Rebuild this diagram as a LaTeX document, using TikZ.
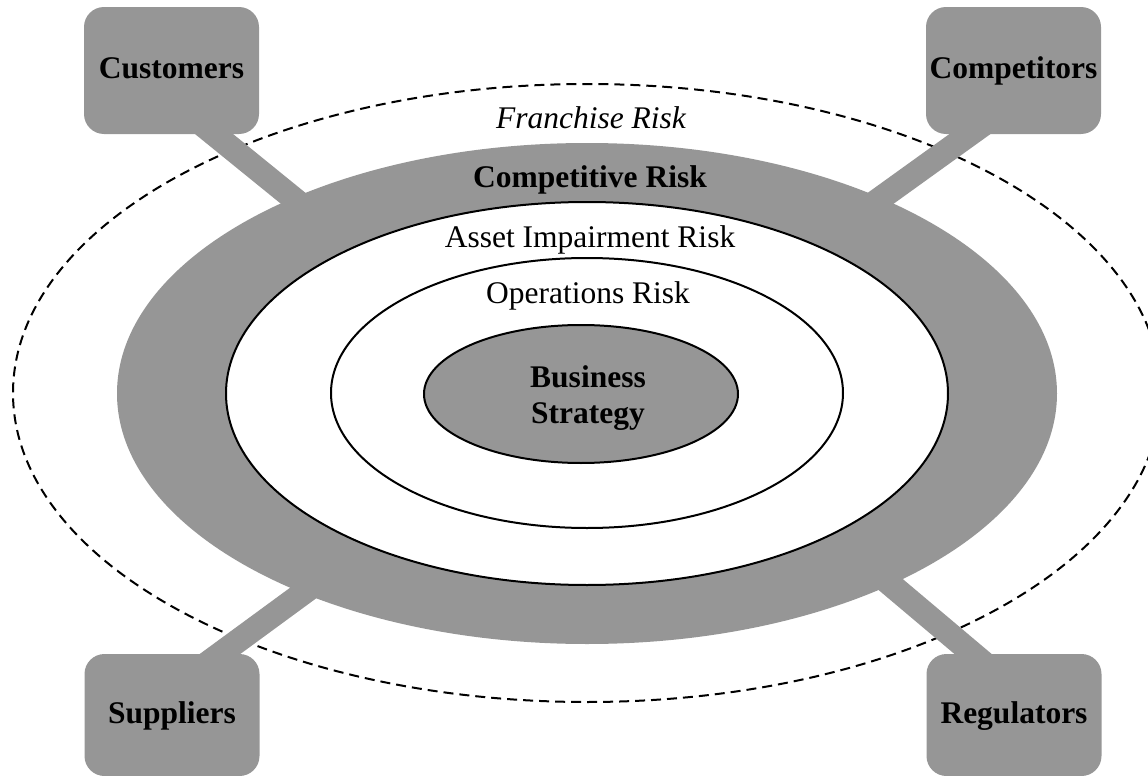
\documentclass[tikz,border=0pt]{standalone}
\usepackage{fontspec}
\setmainfont{Liberation Serif}
\usetikzlibrary{shapes.geometric}
\definecolor{riskgray}{RGB}{150,150,150}
\begin{document}
\begin{tikzpicture}[x=0.5pt,y=-0.5pt,
  txt/.style={font=\fontsize{15.75pt}{18pt}\selectfont},
  ring/.style={ellipse,draw=black,line width=1pt,fill=white,inner sep=0pt},
  party/.style={rectangle,rounded corners=10pt,fill=riskgray,inner sep=0pt,
    minimum width=87.5pt,text height=0.9em,text depth=0.1em,
    font=\fontsize{15.75pt}{18pt}\selectfont\bfseries},
  conn/.style={draw=riskgray,line width=12pt},
  lbl/.style={txt,anchor=base,inner sep=0pt}]
\useasboundingbox (0,0) rectangle (1148,776);
\clip (0,0) rectangle (1148,776);

% outer dashed ellipse
\node[ellipse,draw=black,line width=1pt,dash pattern=on 5pt off 3pt,inner sep=0pt,
  minimum width=574pt,minimum height=309pt] (franchise) at (587,393) {};

% connector ends
\coordinate (k1a) at (171.5,99.5);  \coordinate (k1b) at (469,341);
\coordinate (k2a) at (1011,104.5);  \coordinate (k2b) at (642,370);
\coordinate (k3a) at (175,687);     \coordinate (k3b) at (535,423);
\coordinate (k4a) at (1014,688.5);  \coordinate (k4b) at (686,412);
\draw[conn] (k1a) -- (k1b);
\draw[conn] (k2a) -- (k2b);
\draw[conn] (k3a) -- (k3b);
\draw[conn] (k4a) -- (k4b);

% boxes
\node[party,minimum height=63.5pt] (cust) at (171.5,70.5) {Customers};
\node[party,minimum height=63.5pt] (comp) at (1013.5,70.5) {Competitors};
\node[party,minimum height=61pt] (supp) at (172,715) {Suppliers};
\node[party,minimum height=61pt] (regu) at (1014,715) {Regulators};

% rings
\node[ellipse,fill=riskgray,inner sep=0pt,minimum width=470pt,minimum height=250.5pt]
  (competitive) at (587,393.5) {};
\node[ring,minimum width=361pt,minimum height=191.5pt] (asset) at (587,393.5) {};
\node[ring,minimum width=256pt,minimum height=135pt] (ops) at (587,393) {};
\node[ring,fill=riskgray,minimum width=157pt,minimum height=69pt] (biz) at (581,394) {};

% labels
\node[lbl,font=\fontsize{15.75pt}{18pt}\selectfont\itshape] (tfr) at (591,128) {Franchise Risk};
\node[lbl,font=\fontsize{15.75pt}{18pt}\selectfont\bfseries] (tco) at (590,187) {Competitive Risk};
\node[lbl] (tas) at (590,247) {Asset Impairment Risk};
\node[lbl] (top) at (588,303) {Operations Risk};
\node[txt,font=\fontsize{15.75pt}{18pt}\selectfont\bfseries,align=center,inner sep=0pt]
  (tbs) at (588,397.6) {Business\\Strategy};
\end{tikzpicture}
\end{document}
